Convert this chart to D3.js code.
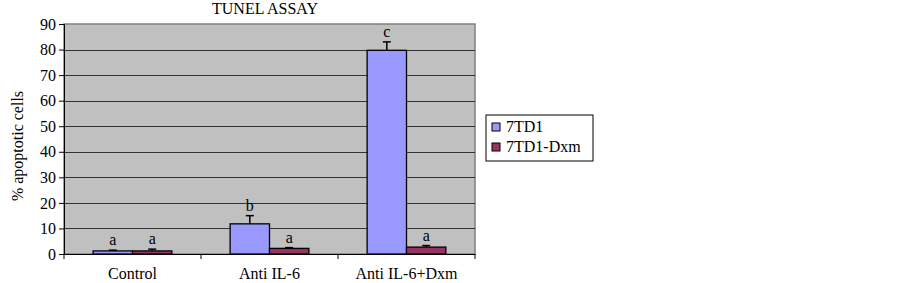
<!DOCTYPE html>
<html>
<head>
<meta charset="utf-8">
<script src="https://cdn.jsdelivr.net/npm/d3@7"></script>
<style>
  body { margin: 0; background: #fff; }
  svg text { font-family: "Liberation Serif", "Times New Roman", "DejaVu Serif", serif !important; }
</style>
</head>
<body>
<div id="grafica"></div>
<script>
// datos
const categorias = ['Control', 'Anti IL-6', 'Anti IL-6+Dxm'];
const series = ['7TD1', '7TD1-Dxm'];
const valores7TD1 = [1.2, 11.8, 79.7];
const valoresDxm = [1.2, 2.2, 2.7];
const error7TD1 = [0.3, 3.2, 3.3];
const errorDxm = [0.7, 0.3, 0.6];
const letras7TD1 = ['a', 'b', 'c'];
const letrasDxm = ['a', 'a', 'a'];
const ticksY = [0, 10, 20, 30, 40, 50, 60, 70, 80, 90];
const colores = ['#9999FF', '#993366'];

const w = 902;
const h = 283;
const izq = 64, der = 475, arriba = 24, abajo = 254;
const fuente = '"Liberation Serif", "Times New Roman", serif';

const svg = d3.select('#grafica').append('svg')
  .attr('width', w)
  .attr('height', h)
  .style('font-family', fuente);

const xScale = d3.scaleBand()
  .domain(categorias)
  .range([izq, der]);

const xInterno = d3.scaleBand()
  .domain(series)
  .range([0, xScale.bandwidth()])
  .paddingOuter(0.74)
  .paddingInner(0);

const yScale = d3.scaleLinear()
  .domain([0, 90])
  .range([abajo, arriba]);

// fondo del area
svg.append('rect')
  .attr('x', izq).attr('y', arriba)
  .attr('width', der - izq).attr('height', abajo - arriba)
  .attr('fill', '#C0C0C0')
  .attr('stroke', '#808080')
  .attr('stroke-width', 1.5);

// lineas de la cuadricula
svg.selectAll('line.grid')
  .data(ticksY.filter(d => d > 0 && d < 90))
  .enter().append('line')
  .attr('class', 'grid')
  .attr('x1', izq).attr('x2', der)
  .attr('y1', d => Math.round(yScale(d)) + 0.5)
  .attr('y2', d => Math.round(yScale(d)) + 0.5)
  .attr('stroke', '#333')
  .attr('stroke-width', 1);

const datos = [];
categorias.forEach((c, i) => {
  datos.push({ cat: c, serie: series[0], v: valores7TD1[i], e: error7TD1[i], l: letras7TD1[i], color: colores[0] });
  datos.push({ cat: c, serie: series[1], v: valoresDxm[i], e: errorDxm[i], l: letrasDxm[i], color: colores[1] });
});

const grupos = svg.selectAll('g.barra')
  .data(datos)
  .enter().append('g')
  .attr('class', 'barra')
  .attr('transform', d => 'translate(' + (xScale(d.cat) + xInterno(d.serie)) + ',0)');

grupos.append('rect')
  .attr('x', 0)
  .attr('width', xInterno.bandwidth())
  .attr('y', d => yScale(d.v))
  .attr('height', d => yScale(0) - yScale(d.v))
  .attr('fill', d => d.color)
  .attr('stroke', '#000')
  .attr('stroke-width', 1.3);

// barras de error (solo hacia arriba)
grupos.append('line')
  .attr('x1', xInterno.bandwidth() / 2).attr('x2', xInterno.bandwidth() / 2)
  .attr('y1', d => yScale(d.v))
  .attr('y2', d => yScale(d.v + d.e))
  .attr('stroke', '#000').attr('stroke-width', 1.5);

grupos.append('line')
  .attr('x1', xInterno.bandwidth() / 2 - 4).attr('x2', xInterno.bandwidth() / 2 + 4)
  .attr('y1', d => yScale(d.v + d.e))
  .attr('y2', d => yScale(d.v + d.e))
  .attr('stroke', '#000').attr('stroke-width', 1.5);

grupos.append('text')
  .attr('x', xInterno.bandwidth() / 2)
  .attr('y', d => yScale(d.v + d.e) - 5)
  .attr('text-anchor', 'middle')
  .attr('font-size', 16)
  .text(d => d.l);

// ejes
const yAxis = d3.axisLeft(yScale).tickValues(ticksY).tickSize(5).tickPadding(3);
svg.append('g')
  .attr('id', 'ejeY')
  .attr('transform', 'translate(' + izq + ',0)')
  .call(yAxis)
  .call(g => g.attr('font-family', null).attr('font-size', null))
  .call(g => g.select('.domain').attr('stroke', '#000'))
  .call(g => g.selectAll('text').attr('font-size', 16).attr('fill', '#000'));

const xAxis = d3.axisBottom(xScale).tickSize(0).tickPadding(14);
svg.append('g')
  .attr('id', 'ejeX')
  .attr('transform', 'translate(0,' + abajo + ')')
  .call(xAxis)
  .call(g => g.attr('font-family', null).attr('font-size', null))
  .call(g => g.select('.domain').attr('stroke', '#000'))
  .call(g => g.selectAll('text').attr('font-size', 16).attr('fill', '#000'));

// marcas entre categorias
svg.selectAll('line.divisor')
  .data(categorias.concat(['fin']))
  .enter().append('line')
  .attr('class', 'divisor')
  .attr('x1', (d, i) => i < categorias.length ? xScale(d) : der)
  .attr('x2', (d, i) => i < categorias.length ? xScale(d) : der)
  .attr('y1', abajo).attr('y2', abajo + 5)
  .attr('stroke', '#000');

// titulo
svg.append('text')
  .attr('x', 265).attr('y', 14)
  .attr('text-anchor', 'middle')
  .attr('font-size', 16)
  .text('TUNEL ASSAY');

// etiqueta eje Y
svg.append('text')
  .attr('transform', 'translate(23,146) rotate(-90)')
  .attr('text-anchor', 'middle')
  .attr('font-size', 16)
  .text('% apoptotic cells');

// leyenda
const leyenda = svg.append('g').attr('transform', 'translate(486,115)');
leyenda.append('rect')
  .attr('width', 107).attr('height', 46)
  .attr('fill', '#fff')
  .attr('stroke', '#000').attr('stroke-width', 1);

series.forEach((s, i) => {
  leyenda.append('rect')
    .attr('x', 6).attr('y', 8 + i * 20)
    .attr('width', 8).attr('height', 8)
    .attr('fill', colores[i])
    .attr('stroke', '#000').attr('stroke-width', 1);
  leyenda.append('text')
    .attr('x', 20).attr('y', 17 + i * 20)
    .attr('font-size', 16)
    .text(s);
});
</script>
</body>
</html>
